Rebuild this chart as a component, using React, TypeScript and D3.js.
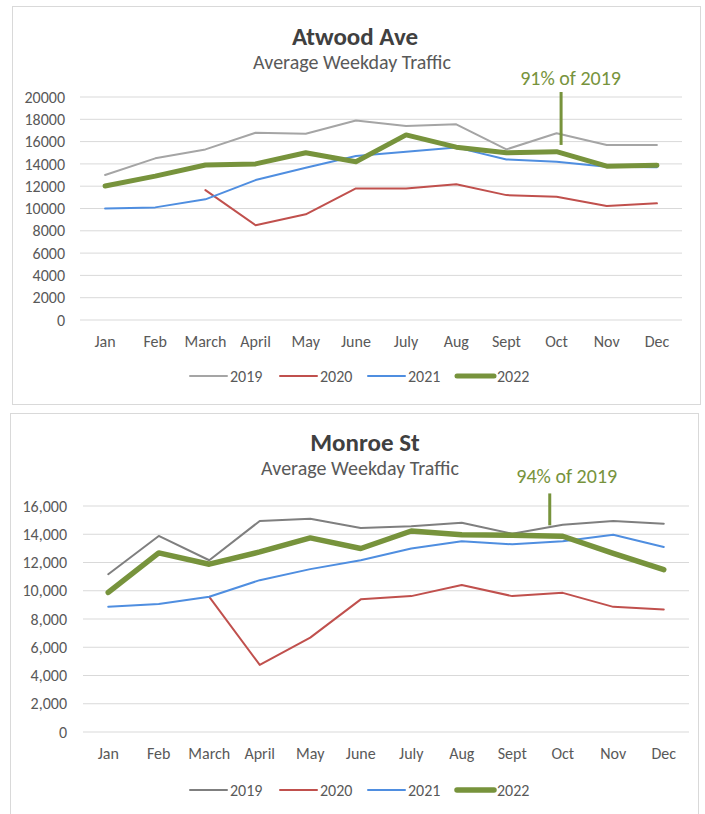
import React from "react";
import * as d3 from "d3";

const months = ["Jan", "Feb", "March", "April", "May", "June", "July", "Aug", "Sept", "Oct", "Nov", "Dec"];
const years = ["2019", "2020", "2021", "2022"];

// Atwood Ave
const atwood2019 = [13000, 14500, 15300, 16800, 16700, 17900, 17400, 17550, 15300, 16750, 15700, 15700];
const atwood2020 = [null, null, 11650, 8500, 9480, 11800, 11800, 12170, 11200, 11060, 10220, 10460];
const atwood2021 = [10000, 10100, 10820, 12550, 13660, 14700, 15100, 15480, 14400, 14200, 13750, 13700];
const atwood2022 = [12020, 12900, 13900, 14000, 15000, 14200, 16600, 15500, 15000, 15100, 13800, 13870];

// Monroe St
const monroe2019 = [11170, 13880, 12160, 14940, 15100, 14440, 14560, 14820, 14040, 14680, 14940, 14750];
const monroe2020 = [null, null, 9570, 4750, 6680, 9390, 9620, 10400, 9620, 9850, 8860, 8680];
const monroe2021 = [8870, 9060, 9570, 10750, 11530, 12160, 12990, 13500, 13290, 13500, 13970, 13100];
const monroe2022 = [9880, 12680, 11880, 12750, 13740, 12990, 14230, 13970, 13930, 13860, 12640, 11500];

const FONT = "Carlito, Calibri, 'Liberation Sans', sans-serif";
const TEXT = "#595959";

type Series = { name: string; values: (number | null)[]; color: string; width: number };

type ChartProps = {
  box: [number, number, number, number];
  title: string;
  note: string;
  series: Series[];
  yMax: number;
  xRange: [number, number];
  yRange: [number, number];
  fmt: (n: number) => string;
  noteLine: [number, number, number]; // dx from Oct, top value, bottom value
  noteText: [number, number];
  titleX: [number, number];
  titleY: number;
  labelX: number;
  legendY: number;
};

function Chart(p: ChartProps) {
  const x = d3.scalePoint<string>().domain(months).range(p.xRange).padding(0.5);
  const y = d3.scaleLinear().domain([0, p.yMax]).range(p.yRange);
  const ticks = d3.range(0, p.yMax + 1, 2000);
  const line = d3
    .line<number | null>()
    .defined((d) => d != null)
    .x((_, i) => x(months[i])!)
    .y((d) => y(d as number));
  const [bx, by, bw, bh] = p.box;
  const oct = x("Oct")!;
  const legendX = [190, 280, 368, 457];

  return (
    <g fontFamily={FONT}>
      <rect x={bx} y={by} width={bw} height={bh} fill="#fff" stroke="#d9d9d9" />
      <text x={p.titleX[0]} y={p.titleY} textAnchor="middle" fontSize={25} fontWeight="bold" fill="#404040">
        {p.title}
      </text>
      <text x={p.titleX[1]} y={p.titleY + 24} textAnchor="middle" fontSize={20} fill={TEXT}>
        Average Weekday Traffic
      </text>
      {ticks.map((t) => (
        <g key={t}>
          <line x1={p.xRange[0]} x2={p.xRange[1]} y1={y(t)} y2={y(t)} stroke="#d9d9d9" />
          <text x={p.labelX} y={y(t)} dy="0.35em" textAnchor="end" fontSize={16} fill={TEXT}>
            {p.fmt(t)}
          </text>
        </g>
      ))}
      {months.map((m) => (
        <text key={m} x={x(m)} y={p.yRange[0] + 21} dy="0.35em" textAnchor="middle" fontSize={16} fill={TEXT}>
          {m}
        </text>
      ))}
      {p.series.map((s) => (
        <path key={s.name} d={line(s.values) || ""} fill="none" stroke={s.color} strokeWidth={s.width}
          strokeLinejoin="round" strokeLinecap="round" />
      ))}
      <line x1={oct + p.noteLine[0]} x2={oct + p.noteLine[0]} y1={y(p.noteLine[1])} y2={y(p.noteLine[2])}
        stroke="#77933c" strokeWidth={3} />
      <text x={oct + p.noteText[0]} y={p.noteText[1]} textAnchor="middle" fontSize={20} fill="#77933c">
        {p.note}
      </text>
      {p.series.map((s, i) => (
        <g key={s.name}>
          <line x1={legendX[i]} x2={legendX[i] + 37} y1={p.legendY} y2={p.legendY} stroke={s.color}
            strokeWidth={s.width} strokeLinecap="round" />
          <text x={legendX[i] + 40} y={p.legendY} dy="0.35em" fontSize={16} fill={TEXT}>
            {years[i]}
          </text>
        </g>
      ))}
    </g>
  );
}

export default function App() {
  const atwood: Series[] = [
    { name: "2019", values: atwood2019, color: "#a5a5a5", width: 2 },
    { name: "2020", values: atwood2020, color: "#c0504d", width: 2 },
    { name: "2021", values: atwood2021, color: "#4f8ee0", width: 2 },
    { name: "2022", values: atwood2022, color: "#77933c", width: 5 },
  ];
  const monroe: Series[] = [
    { name: "2019", values: monroe2019, color: "#7f7f7f", width: 2 },
    { name: "2020", values: monroe2020, color: "#c0504d", width: 2 },
    { name: "2021", values: monroe2021, color: "#4f8ee0", width: 2 },
    { name: "2022", values: monroe2022, color: "#77933c", width: 5.5 },
  ];
  return (
    <div style={{ position: "absolute", left: 0, top: 0 }}>
      <svg width={705} height={814} style={{ display: "block" }}>
        <rect width={705} height={814} fill="#fff" />
        <Chart
          box={[12.5, 6.5, 688, 398]}
          title="Atwood Ave"
          note="91% of 2019"
          series={atwood}
          yMax={20000}
          xRange={[80, 682]}
          yRange={[320, 97]}
          fmt={(n) => String(n)}
          noteLine={[4.5, 20450, 15700]}
          noteText={[14, 85]}
          titleX={[355, 352]}
          titleY={45}
          labelX={65}
          legendY={376}
        />
        <Chart
          box={[10.5, 413.5, 688, 420]}
          title="Monroe St"
          note="94% of 2019"
          series={monroe}
          yMax={16000}
          xRange={[83, 689]}
          yRange={[732, 506]}
          fmt={d3.format(",")}
          noteLine={[-13, 16890, 14630]}
          noteText={[4, 483]}
          titleX={[365, 360]}
          titleY={451}
          labelX={67}
          legendY={790}
        />
      </svg>
    </div>
  );
}
